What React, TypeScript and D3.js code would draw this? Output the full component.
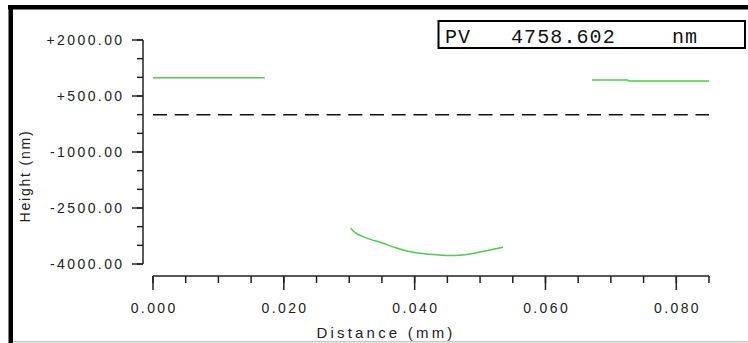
import React, { useEffect, useRef } from 'react'
import * as d3 from 'd3'

// profile readings (distance in mm, height in nm)
const leftDist = [0, 0.004, 0.008, 0.012, 0.0171]
const leftHeight = [990, 990, 990, 990, 990]

const midDist = [0.0302, 0.0309, 0.0324, 0.0352, 0.037, 0.0388, 0.0405, 0.0424, 0.0454, 0.0469, 0.0485, 0.05, 0.0515, 0.0535]
const midHeight = [-3044, -3160, -3286, -3446, -3560, -3650, -3705, -3740, -3775, -3768, -3735, -3680, -3625, -3553]

const rightDist = [0.0671, 0.07, 0.0726, 0.0727, 0.076, 0.08, 0.085]
const rightHeight = [930, 930, 930, 900, 900, 900, 900]

const yTickLabels = ['-4000.00', '-2500.00', '-1000.00', '+500.00', '+2000.00']
const yMajor = [-4000, -2500, -1000, 500, 2000]
const xMajor = [0, 0.02, 0.04, 0.06, 0.08]
const xTickLabels = ['0.000', '0.020', '0.040', '0.060', '0.080']

const pvLabel = 'PV'
const pvValue = '4758.602'
const pvUnit = 'nm'

const App = () => {
  const svgRef = useRef<SVGSVGElement>(null)

  useEffect(() => {
    const width = 748
    const height = 343
    const svg = d3.select(svgRef.current)
    svg.selectAll('*').remove()
    svg.attr('width', width).attr('height', height)

    const x = d3.scaleLinear().domain([0, 0.085]).range([153, 709])
    const y = d3.scaleLinear().domain([-4000, 2000]).range([264, 40])

    // frame
    svg.append('rect').attr('x', 0).attr('y', 0).attr('width', width).attr('height', height).style('fill', '#fff')
    svg.append('rect').attr('x', 8).attr('y', 5).attr('width', 740).attr('height', 4.5).style('fill', '#000')
    svg.append('rect').attr('x', 8.5).attr('y', 5).attr('width', 4.5).attr('height', 338).style('fill', '#000')
    svg.append('rect').attr('x', 13).attr('y', 341).attr('width', 735).attr('height', 1.5).style('fill', '#c8c8c8')

    const tickFont = "'Liberation Sans', Arial, sans-serif"

    // y axis
    const yAxis = svg.append('g')
    yAxis.append('line')
      .attr('x1', 143).attr('x2', 143).attr('y1', y(2000)).attr('y2', y(-4000))
      .style('stroke', '#222').style('stroke-width', 1.5)
    yAxis.selectAll('.yminor')
      .data(d3.range(-4000, 2001, 500))
      .join('line')
      .attr('x1', 137).attr('x2', 143)
      .attr('y1', (d) => y(d)).attr('y2', (d) => y(d))
      .style('stroke', '#222').style('stroke-width', 1.5)
    yAxis.selectAll('.ymajor')
      .data(yMajor)
      .join('line')
      .attr('x1', 132).attr('x2', 143)
      .attr('y1', (d) => y(d)).attr('y2', (d) => y(d))
      .style('stroke', '#222').style('stroke-width', 1.5)
    yAxis.selectAll('.ylabel')
      .data(yMajor)
      .join('text')
      .attr('x', 124.5)
      .attr('y', (d) => y(d) + 5)
      .attr('text-anchor', 'end')
      .text((d, i) => yTickLabels[i])
      .style('font-family', tickFont)
      .style('font-size', '14px')
      .style('letter-spacing', '2.4px')
      .style('fill', '#222')

    // x axis
    const xAxis = svg.append('g')
    xAxis.append('line')
      .attr('x1', x(0)).attr('x2', x(0.085)).attr('y1', 276).attr('y2', 276)
      .style('stroke', '#222').style('stroke-width', 1.5)
    xAxis.selectAll('.xminor')
      .data(d3.range(0, 0.0851, 0.005))
      .join('line')
      .attr('x1', (d) => x(d)).attr('x2', (d) => x(d))
      .attr('y1', 276).attr('y2', 283)
      .style('stroke', '#222').style('stroke-width', 1.5)
    xAxis.selectAll('.xmajor')
      .data(xMajor)
      .join('line')
      .attr('x1', (d) => x(d)).attr('x2', (d) => x(d))
      .attr('y1', 276).attr('y2', 290)
      .style('stroke', '#222').style('stroke-width', 1.5)
    xAxis.selectAll('.xlabel')
      .data(xMajor)
      .join('text')
      .attr('x', (d) => x(d) + 1.2)
      .attr('y', 312.5)
      .attr('text-anchor', 'middle')
      .text((d, i) => xTickLabels[i])
      .style('font-family', tickFont)
      .style('font-size', '14px')
      .style('letter-spacing', '2.4px')
      .style('fill', '#222')

    // axis titles
    svg.append('text')
      .attr('x', 386)
      .attr('y', 337.5)
      .attr('text-anchor', 'middle')
      .text('Distance (mm)')
      .style('font-family', tickFont)
      .style('font-size', '15px')
      .style('letter-spacing', '3.2px')
      .style('fill', '#222')

    svg.append('text')
      .attr('transform', 'translate(30,176) rotate(-90)')
      .attr('text-anchor', 'middle')
      .text('Height (nm)')
      .style('font-family', tickFont)
      .style('font-size', '14px')
      .style('letter-spacing', '1.8px')
      .style('fill', '#222')

    // zero reference
    svg.append('line')
      .attr('x1', x(0)).attr('x2', x(0.085))
      .attr('y1', y(0)).attr('y2', y(0))
      .style('stroke', '#111').style('stroke-width', 1.5)
      .style('stroke-dasharray', '14,7.7')

    // profile segments
    const line = d3.line<[number, number]>()
      .x((d) => x(d[0]))
      .y((d) => y(d[1]))
      .curve(d3.curveMonotoneX)
    const segments: [number, number][][] = [
      leftDist.map((d, i) => [d, leftHeight[i]]),
      midDist.map((d, i) => [d, midHeight[i]]),
      rightDist.map((d, i) => [d, rightHeight[i]]),
    ]
    svg.selectAll('.seg')
      .data(segments)
      .join('path')
      .attr('d', (d) => line(d))
      .style('fill', 'none')
      .style('stroke', '#4fcb4f')
      .style('stroke-width', 1.5)

    // PV box
    svg.append('rect')
      .attr('x', 438.5).attr('y', 21).attr('width', 306.5).attr('height', 27)
      .style('fill', '#fff').style('stroke', '#000').style('stroke-width', 2)
    const monoFont = "'Liberation Mono', 'Courier New', monospace"
    const box = svg.append('g')
      .style('font-family', monoFont)
      .style('font-size', '20px')
      .style('letter-spacing', '1.1px')
      .style('fill', '#111')
    box.append('text').attr('x', 445).attr('y', 43).text(pvLabel)
    box.append('text').attr('x', 511).attr('y', 43).text(pvValue)
    box.append('text').attr('x', 672).attr('y', 43).text(pvUnit)
  }, [])

  return (
    <svg ref={svgRef} style={{ position: 'absolute', left: 0, top: 0, display: 'block' }}></svg>
  )
}

export default App
